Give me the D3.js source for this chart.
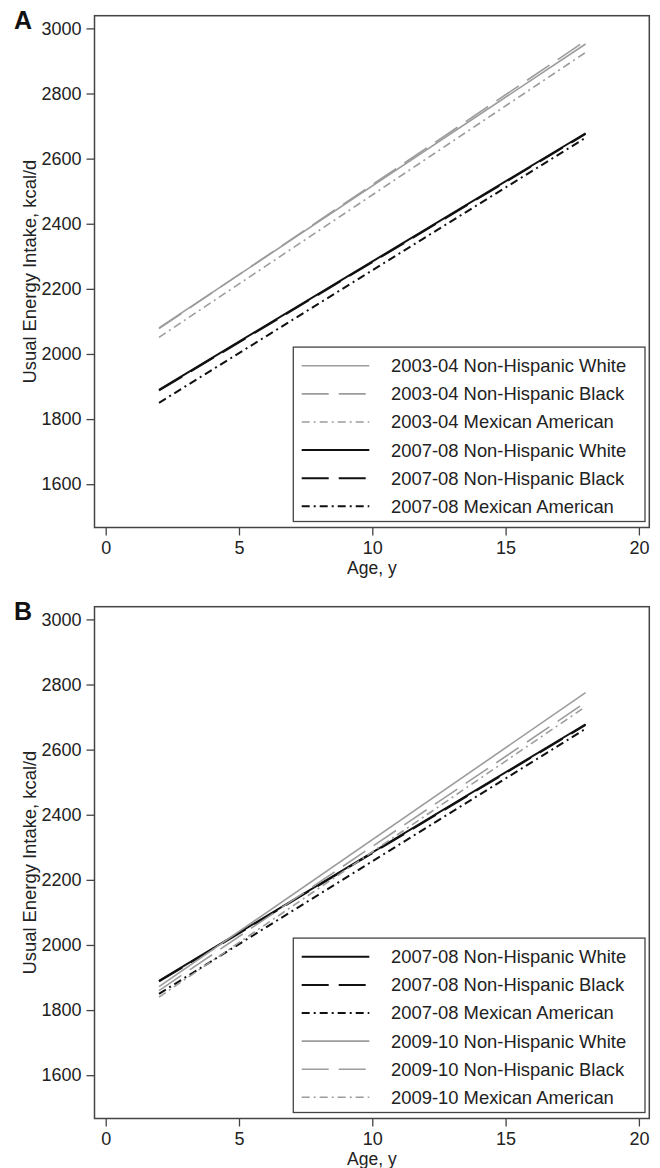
<!DOCTYPE html>
<html>
<head>
<meta charset="utf-8">
<script src="https://cdn.jsdelivr.net/npm/d3@7"></script>
<style>
  body { margin: 0; background: #fff; }
  svg { display: block; font-family: "Liberation Sans", Arial, sans-serif; }
</style>
</head>
<body>
<div id="chart"></div>
<script>
// ages at which each fitted line is drawn
const ages = [2, 18];
const ageTicks = [0, 5, 10, 15, 20];
const kcalTicks = [1600, 1800, 2000, 2200, 2400, 2600, 2800, 3000];

// usual energy intake (kcal/d) at age 2 and age 18
const nhw0304 = [2080, 2952];
const nhb0304 = [2078, 2962];
const ma0304 = [2051, 2926];
const nhw0708 = [1890, 2678];
const nhb0708 = [1888, 2676];
const ma0708 = [1850, 2664];
const nhw0910 = [1872, 2775];
const nhb0910 = [1860, 2745];
const ma0910 = [1840, 2732];

const panelA = [
  { label: "2003-04 Non-Hispanic White", values: nhw0304, tone: "gray", dash: "solid" },
  { label: "2003-04 Non-Hispanic Black", values: nhb0304, tone: "gray", dash: "long" },
  { label: "2003-04 Mexican American", values: ma0304, tone: "gray", dash: "dashdot" },
  { label: "2007-08 Non-Hispanic White", values: nhw0708, tone: "black", dash: "solid" },
  { label: "2007-08 Non-Hispanic Black", values: nhb0708, tone: "black", dash: "long" },
  { label: "2007-08 Mexican American", values: ma0708, tone: "black", dash: "dashdot" }
];
const panelB = [
  { label: "2007-08 Non-Hispanic White", values: nhw0708, tone: "black", dash: "solid" },
  { label: "2007-08 Non-Hispanic Black", values: nhb0708, tone: "black", dash: "long" },
  { label: "2007-08 Mexican American", values: ma0708, tone: "black", dash: "dashdot" },
  { label: "2009-10 Non-Hispanic White", values: nhw0910, tone: "gray", dash: "solid" },
  { label: "2009-10 Non-Hispanic Black", values: nhb0910, tone: "gray", dash: "long" },
  { label: "2009-10 Mexican American", values: ma0910, tone: "gray", dash: "dashdot" }
];

const W = 660, H = 1168;
const colors = { gray: "#9c9c9c", black: "#111" };
const widths = { gray: 1.6, black: 2 };
const dashes = { solid: null, long: "27,10", dashdot: "8,4,2,4" };

const svg = d3.select("#chart").append("svg")
  .attr("width", W).attr("height", H)
  .style("font-size", "18.4px");

const x = d3.scaleLinear().domain([-0.42, 20.39]).range([94.5, 649.3]);

function drawPanel(letter, series, top) {
  const bottom = top + 511.8;
  const y = d3.scaleLinear().domain([1467, 3039]).range([bottom, top]);
  const g = svg.append("g");

  // frame
  g.append("rect")
    .attr("x", x.range()[0]).attr("y", top)
    .attr("width", x.range()[1] - x.range()[0]).attr("height", bottom - top)
    .attr("fill", "none").attr("stroke", "#444").attr("stroke-width", 1.5);

  const yAxis = g.append("g")
    .attr("transform", `translate(${x.range()[0]},0)`)
    .call(d3.axisLeft(y).tickValues(kcalTicks).tickSize(8).tickSizeOuter(0).tickPadding(5).tickFormat(d3.format("d")));
  const xAxis = g.append("g")
    .attr("transform", `translate(0,${bottom})`)
    .call(d3.axisBottom(x).tickValues(ageTicks).tickSize(8).tickSizeOuter(0).tickPadding(5.5));
  [yAxis, xAxis].forEach(a => {
    a.select(".domain").remove();
    a.selectAll("line").attr("stroke", "#444").attr("stroke-width", 1.3);
    a.selectAll("text").attr("fill", "#222").style("font-size", "18px")
      .style("font-family", "'Liberation Sans', Arial, sans-serif");
  });

  g.append("text")
    .attr("x", 14).attr("y", top + 12.8)
    .style("font-size", "25px").style("font-weight", "bold").attr("fill", "#111")
    .text(letter);

  g.append("text")
    .attr("transform", `translate(36,${(top + bottom) / 2}) rotate(-90)`)
    .attr("text-anchor", "middle").attr("fill", "#222")
    .text("Usual Energy Intake, kcal/d");

  g.append("text")
    .attr("x", (x.range()[0] + x.range()[1]) / 2).attr("y", bottom + 46)
    .attr("text-anchor", "middle").attr("fill", "#222")
    .style("font-size", "17.5px")
    .text("Age, y");

  const line = d3.line().x((d, i) => x(ages[i])).y(d => y(d));
  g.append("g").selectAll("path")
    .data(series)
    .join("path")
    .attr("d", d => line(d.values))
    .attr("fill", "none")
    .attr("stroke", d => colors[d.tone])
    .attr("stroke-width", d => widths[d.tone])
    .attr("stroke-dasharray", d => dashes[d.dash]);

  // legend
  const lgBottom = bottom - 6, lgTop = lgBottom - 174.4;
  const lg = g.append("g");
  lg.append("rect")
    .attr("x", 293.3).attr("y", lgTop)
    .attr("width", 645 - 293.3).attr("height", lgBottom - lgTop)
    .attr("fill", "#fff").attr("stroke", "#444").attr("stroke-width", 1.3);
  const rows = lg.selectAll("g.row")
    .data(series)
    .join("g")
    .attr("class", "row")
    .attr("transform", (d, i) => `translate(0,${lgTop + 18.7 + i * 28.1})`);
  rows.append("line")
    .attr("x1", 301.7).attr("x2", 369.3)
    .attr("stroke", d => colors[d.tone])
    .attr("stroke-width", d => widths[d.tone])
    .attr("stroke-dasharray", d => dashes[d.dash]);
  rows.append("text")
    .attr("x", 391).attr("dy", "0.35em").attr("fill", "#222")
    .text(d => d.label);
}

drawPanel("A", panelA, 15.7);
drawPanel("B", panelB, 606.7);
</script>
</body>
</html>
